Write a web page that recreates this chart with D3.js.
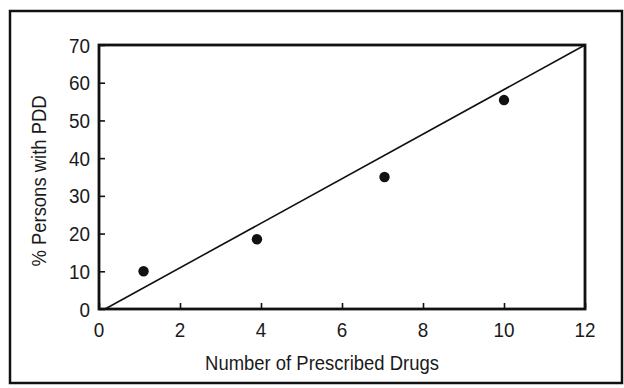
<!DOCTYPE html>
<html>
<head>
<meta charset="utf-8">
<script src="https://cdn.jsdelivr.net/npm/d3@7"></script>
<style>
  html, body { margin: 0; padding: 0; background: #fff; }
  svg text { font-family: "Liberation Sans", Arial, Helvetica, sans-serif; fill: #1a1a1a; }
</style>
</head>
<body>
<div id="chart"></div>
<script>
// data
var drugs = [1.1, 3.9, 7.05, 10];
var pctPDD = [10, 18.5, 35, 55.4];
var fitX = [0.15, 12];
var fitY = [0, 70];
var xTicks = [0, 2, 4, 6, 8, 10, 12];
var yTicks = [0, 10, 20, 30, 40, 50, 60, 70];

const width = 624, height = 388;
const plot = ({ left: 99, top: 45, right: 585, bottom: 309 });
const squeeze = 0.9; // condensed type look

const svg = d3.select("#chart").append("svg")
    .attr("width", width)
    .attr("height", height);

// outer frame
svg.append("rect")
    .attr("x", 10).attr("y", 11)
    .attr("width", 612).attr("height", 372)
    .attr("fill", "none")
    .attr("stroke", "#111")
    .attr("stroke-width", 2.5);

const x = d3.scaleLinear().domain([0, 12]).range([plot.left, plot.right]);
const y = d3.scaleLinear().domain([0, 70]).range([plot.bottom, plot.top]);

// ticks point inward, labels drawn separately so they can be squeezed
const xAxis = svg.append("g")
    .attr("transform", `translate(0, ${plot.bottom})`)
    .call(d3.axisBottom(x).tickValues(xTicks).tickSize(-6).tickFormat(""));
const yAxis = svg.append("g")
    .attr("transform", `translate(${plot.left}, 0)`)
    .call(d3.axisLeft(y).tickValues(yTicks).tickSize(-6).tickFormat(""));

[xAxis, yAxis].forEach(function(a){
    a.select(".domain").remove();
    a.selectAll(".tick line").attr("stroke", "#111").attr("stroke-width", 1.6);
});

svg.append("g").selectAll("text")
    .data(xTicks)
    .enter()
    .append("text")
    .attr("transform", d => `translate(${x(d)}, 337) scale(${squeeze}, 1)`)
    .attr("text-anchor", "middle")
    .attr("font-size", 21)
    .text(d => d);

svg.append("g").selectAll("text")
    .data(yTicks)
    .enter()
    .append("text")
    .attr("transform", d => `translate(90, ${y(d)}) scale(${squeeze}, 1)`)
    .attr("text-anchor", "end")
    .attr("dy", "0.36em")
    .attr("font-size", 21)
    .text(d => d);

// plot box
svg.append("rect")
    .attr("x", plot.left).attr("y", plot.top)
    .attr("width", plot.right - plot.left)
    .attr("height", plot.bottom - plot.top)
    .attr("fill", "none")
    .attr("stroke", "#111")
    .attr("stroke-width", 2.8);

// fitted line
const line = d3.line()
    .x(d => x(d[0]))
    .y(d => y(d[1]));

svg.append("path")
    .datum(d3.zip(fitX, fitY))
    .attr("d", line)
    .attr("fill", "none")
    .attr("stroke", "#111")
    .attr("stroke-width", 1.6);

svg.selectAll("circle.pt")
    .data(d3.zip(drugs, pctPDD))
    .enter()
    .append("circle")
    .attr("class", "pt")
    .attr("cx", d => x(d[0]))
    .attr("cy", d => y(d[1]))
    .attr("r", 5.2)
    .attr("fill", "#111");

// axis titles
svg.append("text")
    .attr("transform", `translate(322, 370) scale(${squeeze}, 1)`)
    .attr("text-anchor", "middle")
    .attr("font-size", 20.5)
    .text("Number of Prescribed Drugs");

svg.append("text")
    .attr("transform", `translate(46, 181) rotate(-90) scale(${squeeze}, 1)`)
    .attr("text-anchor", "middle")
    .attr("font-size", 20.5)
    .text("% Persons with PDD");
</script>
</body>
</html>
